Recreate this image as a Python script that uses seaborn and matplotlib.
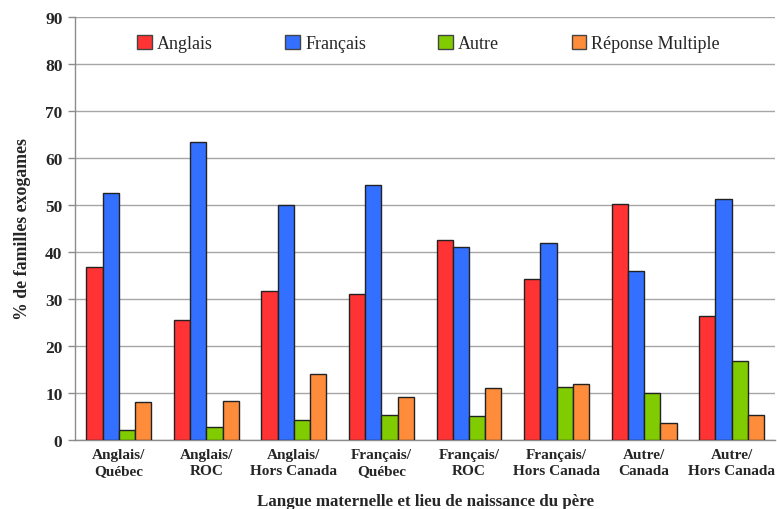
import numpy as np
import pandas as pd
import matplotlib
matplotlib.use("Agg")
import matplotlib.pyplot as plt
import seaborn as sns

categories = ["Anglais/\nQuébec", "Anglais/\nROC", "Anglais/\nHors Canada",
              "Français/\nQuébec", "Français/\nROC", "Français/\nHors Canada",
              "Autre/\nCanada", "Autre/\nHors Canada"]
anglais = [36.9, 25.5, 31.7, 31.0, 42.5, 34.2, 50.1, 26.3]
francais = [52.6, 63.4, 49.9, 54.3, 41.0, 42.0, 36.0, 51.3]
autre = [2.1, 2.7, 4.3, 5.3, 5.1, 11.3, 10.0, 16.8]
reponse_multiple = [8.1, 8.2, 14.1, 9.2, 11.1, 12.0, 3.7, 5.3]
series_names = ["Anglais", "Français", "Autre", "Réponse Multiple"]
colors = ["#FF3333", "#3370FF", "#80CC00", "#FF8C3A"]

rows = []
for name, vals in zip(series_names, [anglais, francais, autre, reponse_multiple]):
    for cat, v in zip(categories, vals):
        rows.append({"cat": cat, "serie": name, "val": v})
df = pd.DataFrame(rows)

sns.set_theme(style="white")
plt.rcParams["font.family"] = ["Liberation Serif", "DejaVu Serif"]

fig = plt.figure(figsize=(7.77, 5.10), dpi=100)
ax = fig.add_axes([0.0965, 0.1353, 0.9015, 0.8297])

sns.barplot(data=df, x="cat", y="val", hue="serie", order=categories,
            hue_order=series_names, palette=colors, width=0.74,
            edgecolor="#222222", linewidth=1.0, saturation=1, ax=ax,
            errorbar=None, zorder=3)

ax.set_ylim(0, 90)
ax.set_yticks(np.arange(0, 91, 10))
ax.set_xlim(-0.5, len(categories) - 0.5)
ax.yaxis.grid(True, color="#A6A6A6", linewidth=1.0, zorder=0)
ax.set_axisbelow(True)
for s in ["top", "right"]:
    ax.spines[s].set_visible(False)
for s in ["left", "bottom"]:
    ax.spines[s].set_color("#8C8C8C")
    ax.spines[s].set_linewidth(1.0)
ax.tick_params(axis="y", length=5, color="#8C8C8C", width=1, left=True, pad=4)
ax.tick_params(axis="x", length=0, pad=6)

for lab in ax.get_yticklabels():
    lab.set_fontweight("bold")
    lab.set_fontsize(12.5)
for lab in ax.get_xticklabels():
    lab.set_fontweight("bold")
    lab.set_fontsize(11)
    lab.set_linespacing(1.3)

ax.set_ylabel("% de familles exogames", fontsize=12.8, fontweight="bold", labelpad=10)
ax.set_xlabel("Langue maternelle et lieu de naissance du père", fontsize=12.2,
              fontweight="bold", labelpad=11)

leg = ax.legend(loc="upper center", bbox_to_anchor=(0.505, 0.995), ncol=4, frameon=False,
                fontsize=13, handlelength=0.8, handleheight=0.8, handletextpad=0.3,
                columnspacing=4.0)
for h in leg.legend_handles:
    h.set_edgecolor("#444444")
    h.set_linewidth(1.0)

fig.savefig("out.png", dpi=100)
